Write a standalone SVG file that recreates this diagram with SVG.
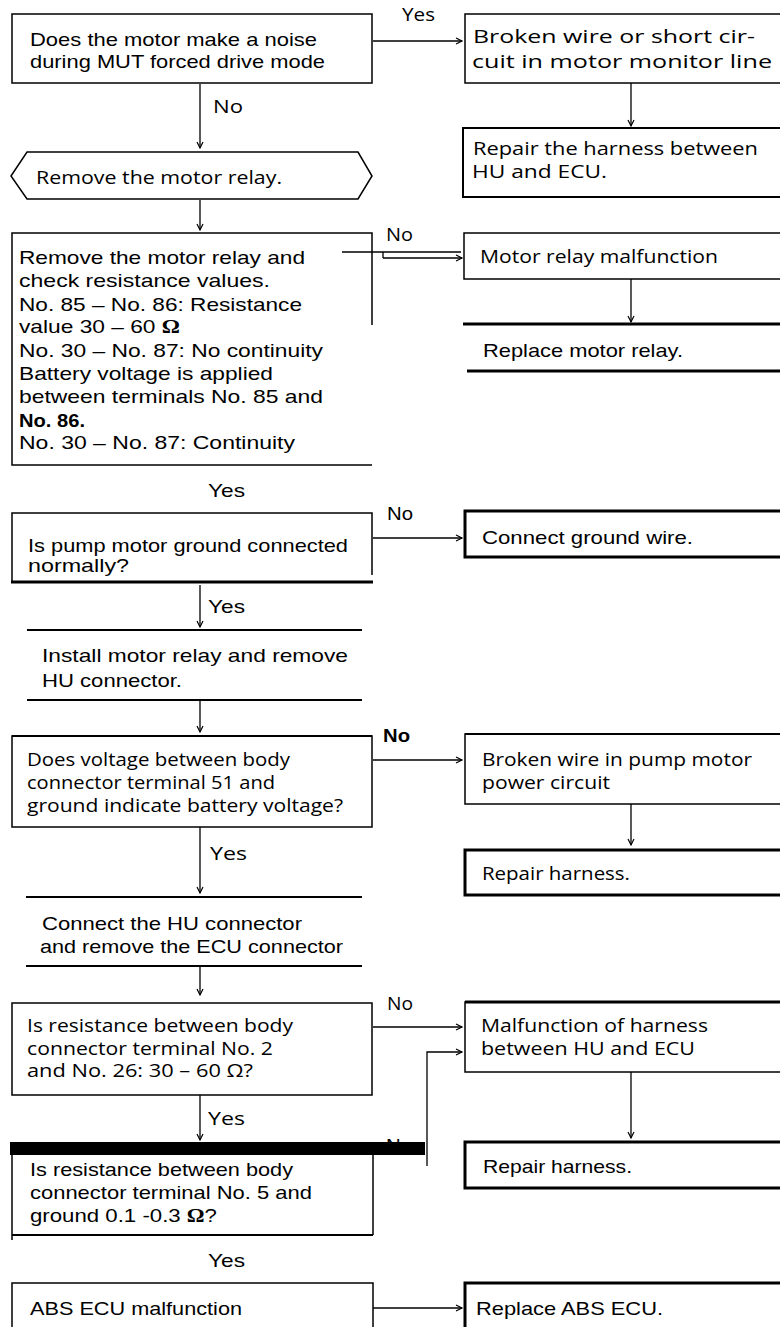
<svg xmlns="http://www.w3.org/2000/svg" width="780" height="1327" viewBox="0 0 780 1327">
<style>
.bx{fill:none;stroke:#000;stroke-width:1.5}
.b2{fill:none;stroke:#000;stroke-width:2}
.b3{fill:none;stroke:#000;stroke-width:3}
.a{font-family:"Liberation Sans",Arial,sans-serif;font-size:19px;fill:#000}
.h{font-family:"Open Sans","Noto Sans",sans-serif;font-size:18px;fill:#000}
.om{font-family:"Liberation Serif","Times New Roman",serif;font-weight:bold}
.c{fill:none;stroke:#000;stroke-width:1.3}
</style>
<defs>
<marker id="ah" markerWidth="9" markerHeight="9" refX="7" refY="4" orient="auto" markerUnits="userSpaceOnUse">
<path d="M1,1 L7,4 L1,7" fill="none" stroke="#000" stroke-width="1.2"/>
</marker>
</defs>
<rect width="780" height="1327" fill="#fff"/>

<g id="connectors">
<line class="c" x1="373" y1="41" x2="462" y2="41" marker-end="url(#ah)"/>
<line class="c" x1="200" y1="84" x2="200" y2="148" marker-end="url(#ah)"/>
<line class="c" x1="631" y1="83" x2="631" y2="126" marker-end="url(#ah)"/>
<line class="c" x1="200" y1="200" x2="200" y2="230" marker-end="url(#ah)"/>
<line class="c" x1="342" y1="252" x2="461" y2="252"/>
<line class="c" x1="383" y1="258" x2="462" y2="258" marker-end="url(#ah)"/>
<line class="c" x1="383" y1="252" x2="383" y2="258"/>
<line class="c" x1="631" y1="279" x2="631" y2="322" marker-end="url(#ah)"/>
<line class="c" x1="373" y1="538" x2="462" y2="538" marker-end="url(#ah)"/>
<line class="c" x1="200" y1="585" x2="200" y2="627" marker-end="url(#ah)"/>
<line class="c" x1="200" y1="701" x2="200" y2="732" marker-end="url(#ah)"/>
<line class="c" x1="373" y1="760" x2="462" y2="760" marker-end="url(#ah)"/>
<line class="c" x1="631" y1="804" x2="631" y2="845" marker-end="url(#ah)"/>
<line class="c" x1="200" y1="827" x2="200" y2="893" marker-end="url(#ah)"/>
<line class="c" x1="200" y1="967" x2="200" y2="995" marker-end="url(#ah)"/>
<line class="c" x1="373" y1="1027" x2="462" y2="1027" marker-end="url(#ah)"/>
<polyline class="c" points="427,1166 427,1052 462,1052" stroke-width="2" marker-end="url(#ah)"/>
<line class="c" x1="631" y1="1072" x2="631" y2="1138" marker-end="url(#ah)"/>
<line class="c" x1="200" y1="1095" x2="200" y2="1140" marker-end="url(#ah)"/>
<line class="c" x1="373" y1="1308" x2="462" y2="1308" marker-end="url(#ah)"/>

<text class="h" x="402" y="21" font-size="15" textLength="33" lengthAdjust="spacingAndGlyphs">Yes</text>
<text class="h" x="213" y="113" textLength="30" lengthAdjust="spacingAndGlyphs">No</text>
<text class="h" x="386" y="241" textLength="27" lengthAdjust="spacingAndGlyphs">No</text>
<text class="a" x="208" y="497" textLength="37" lengthAdjust="spacingAndGlyphs">Yes</text>
<text class="a" x="387" y="520" textLength="26" lengthAdjust="spacingAndGlyphs">No</text>
<text class="a" x="208" y="613" textLength="37" lengthAdjust="spacingAndGlyphs">Yes</text>
<text class="a" x="383" y="742" font-weight="bold" textLength="27" lengthAdjust="spacingAndGlyphs">No</text>
<text class="h" x="210" y="860" textLength="37" lengthAdjust="spacingAndGlyphs">Yes</text>
<text class="h" x="387" y="1010" textLength="26" lengthAdjust="spacingAndGlyphs">No</text>
<text class="h" x="208" y="1125" textLength="37" lengthAdjust="spacingAndGlyphs">Yes</text>
<text class="a" x="386" y="1152" textLength="26" lengthAdjust="spacingAndGlyphs">No</text>
<text class="a" x="208" y="1267" textLength="37" lengthAdjust="spacingAndGlyphs">Yes</text>
</g>

<g id="n1">
<rect class="bx" x="12" y="14" width="360" height="69"/>
<text class="a" x="30" y="46" font-size="20" textLength="287" lengthAdjust="spacingAndGlyphs">Does the motor make a noise</text>
<text class="a" x="30" y="68" font-size="20" textLength="295" lengthAdjust="spacingAndGlyphs">during MUT forced drive mode</text>
</g>

<g id="n2">
<rect class="bx" x="465" y="14" width="330" height="69"/>
<text class="h" x="473" y="43" textLength="282" lengthAdjust="spacingAndGlyphs">Broken wire or short cir-</text>
<text class="h" x="472" y="68" textLength="300" lengthAdjust="spacingAndGlyphs">cuit in motor monitor line</text>
</g>

<g id="n3">
<rect class="b2" x="463" y="128" width="330" height="69"/>
<text class="h" x="473" y="155" textLength="285" lengthAdjust="spacingAndGlyphs">Repair the harness between</text>
<text class="h" x="472" y="178" textLength="135" lengthAdjust="spacingAndGlyphs">HU and ECU.</text>
</g>

<g id="n4">
<polygon class="bx" points="11,176 27,152 358,152 372,176 358,199 27,199"/>
<text class="h" x="36" y="184" textLength="246" lengthAdjust="spacingAndGlyphs">Remove the motor relay.</text>
</g>

<g id="n5">
<path class="bx" d="M372,325 L372,233 L12,233 L12,465 L372,465"/>
<text class="a" x="19" y="264" textLength="286" lengthAdjust="spacingAndGlyphs">Remove the motor relay and</text>
<text class="a" x="19" y="287" textLength="251" lengthAdjust="spacingAndGlyphs">check resistance values.</text>
<text class="a" x="19" y="311" textLength="283" lengthAdjust="spacingAndGlyphs">No. 85 – No. 86: Resistance</text>
<text class="a" x="19" y="333" textLength="161" lengthAdjust="spacingAndGlyphs">value 30 – 60 <tspan class="om">Ω</tspan></text>
<text class="a" x="19" y="357" textLength="304" lengthAdjust="spacingAndGlyphs">No. 30 – No. 87: No continuity</text>
<text class="a" x="19" y="380" textLength="254" lengthAdjust="spacingAndGlyphs">Battery voltage is applied</text>
<text class="a" x="19" y="403" textLength="304" lengthAdjust="spacingAndGlyphs">between terminals No. 85 and</text>
<text class="a" x="19" y="427" font-weight="bold" textLength="66" lengthAdjust="spacingAndGlyphs">No. 86.</text>
<text class="a" x="19" y="449" textLength="276" lengthAdjust="spacingAndGlyphs">No. 30 – No. 87: Continuity</text>
</g>

<g id="n6">
<rect class="bx" x="464" y="233" width="330" height="46"/>
<text class="h" x="480" y="263" textLength="238" lengthAdjust="spacingAndGlyphs">Motor relay malfunction</text>
</g>

<g id="n7">
<line class="b3" x1="463" y1="324" x2="780" y2="324"/>
<line class="b3" x1="467" y1="371" x2="780" y2="371"/>
<text class="a" x="483" y="357" textLength="200" lengthAdjust="spacingAndGlyphs">Replace motor relay.</text>
</g>

<g id="n8">
<path class="bx" d="M372,575 L372,513 L12,513 L12,582"/>
<line class="b3" x1="11" y1="582" x2="373" y2="582"/>
<text class="a" x="28" y="552" textLength="320" lengthAdjust="spacingAndGlyphs">Is pump motor ground connected</text>
<text class="a" x="28" y="572" textLength="101" lengthAdjust="spacingAndGlyphs">normally?</text>
</g>

<g id="n9">
<rect class="b3" x="465" y="511" width="330" height="46"/>
<text class="a" x="482" y="544" textLength="211" lengthAdjust="spacingAndGlyphs">Connect ground wire.</text>
</g>

<g id="n10">
<line class="b2" x1="27" y1="630" x2="362" y2="630"/>
<line class="b2" x1="27" y1="700" x2="362" y2="700"/>
<text class="a" x="42" y="662" textLength="306" lengthAdjust="spacingAndGlyphs">Install motor relay and remove</text>
<text class="a" x="42" y="687" textLength="140" lengthAdjust="spacingAndGlyphs">HU connector.</text>
</g>

<g id="n11">
<rect class="bx" x="12" y="736" width="360" height="91"/>
<line class="b2" x1="12" y1="736" x2="372" y2="736"/>
<text class="h" x="27" y="766" textLength="263" lengthAdjust="spacingAndGlyphs">Does voltage between body</text>
<text class="h" x="27" y="789" textLength="248" lengthAdjust="spacingAndGlyphs">connector terminal 51 and</text>
<text class="h" x="27" y="812" textLength="316" lengthAdjust="spacingAndGlyphs">ground indicate battery voltage?</text>
</g>

<g id="n12">
<rect class="bx" x="465" y="734" width="330" height="70"/>
<line class="b2" x1="465" y1="734" x2="780" y2="734"/>
<text class="h" x="482" y="766" textLength="270" lengthAdjust="spacingAndGlyphs">Broken wire in pump motor</text>
<text class="h" x="482" y="789" textLength="128" lengthAdjust="spacingAndGlyphs">power circuit</text>
</g>

<g id="n13">
<rect class="b3" x="465" y="850" width="330" height="45"/>
<text class="h" x="482" y="880" textLength="148" lengthAdjust="spacingAndGlyphs">Repair harness.</text>
</g>

<g id="n14">
<line class="b2" x1="26" y1="897" x2="362" y2="897"/>
<line class="b2" x1="26" y1="966" x2="362" y2="966"/>
<text class="a" x="42" y="930" textLength="260" lengthAdjust="spacingAndGlyphs">Connect the HU connector</text>
<text class="a" x="40" y="953" textLength="303" lengthAdjust="spacingAndGlyphs">and remove the ECU connector</text>
</g>

<g id="n15">
<rect class="bx" x="12" y="1003" width="360" height="92"/>
<text class="h" x="27" y="1032" textLength="266" lengthAdjust="spacingAndGlyphs">Is resistance between body</text>
<text class="h" x="27" y="1055" textLength="246" lengthAdjust="spacingAndGlyphs">connector terminal No. 2</text>
<text class="h" x="27" y="1077" textLength="226" lengthAdjust="spacingAndGlyphs">and No. 26: 30 – 60 Ω?</text>
</g>

<g id="n16">
<rect class="bx" x="465" y="1002" width="330" height="70"/>
<line class="b3" x1="465" y1="1002" x2="780" y2="1002"/>
<text class="h" x="481" y="1032" textLength="227" lengthAdjust="spacingAndGlyphs">Malfunction of harness</text>
<text class="h" x="481" y="1055" textLength="214" lengthAdjust="spacingAndGlyphs">between HU and ECU</text>
</g>

<g id="n17">
<rect class="b3" x="465" y="1142" width="330" height="46"/>
<text class="a" x="483" y="1173" textLength="149" lengthAdjust="spacingAndGlyphs">Repair harness.</text>
</g>

<g id="n18">
<rect x="10" y="1142" width="415" height="13" fill="#000"/>
<path class="bx" d="M12,1142 L12,1240"/>
<path class="bx" d="M373,1155 L373,1235"/>
<line class="b2" x1="12" y1="1235" x2="373" y2="1235"/>
<text class="a" x="30" y="1176" textLength="263" lengthAdjust="spacingAndGlyphs">Is resistance between body</text>
<text class="a" x="30" y="1199" textLength="282" lengthAdjust="spacingAndGlyphs">connector terminal No. 5 and</text>
<text class="a" x="30" y="1222" textLength="187" lengthAdjust="spacingAndGlyphs">ground 0.1 -0.3 <tspan class="om">Ω</tspan>?</text>
</g>

<g id="n19">
<rect class="bx" x="12" y="1283" width="361" height="60"/>
<text class="a" x="30" y="1315" textLength="212" lengthAdjust="spacingAndGlyphs">ABS ECU malfunction</text>
</g>

<g id="n20">
<rect class="b3" x="465" y="1283" width="330" height="60"/>
<text class="a" x="476" y="1315" textLength="187" lengthAdjust="spacingAndGlyphs">Replace ABS ECU.</text>
</g>
</svg>
